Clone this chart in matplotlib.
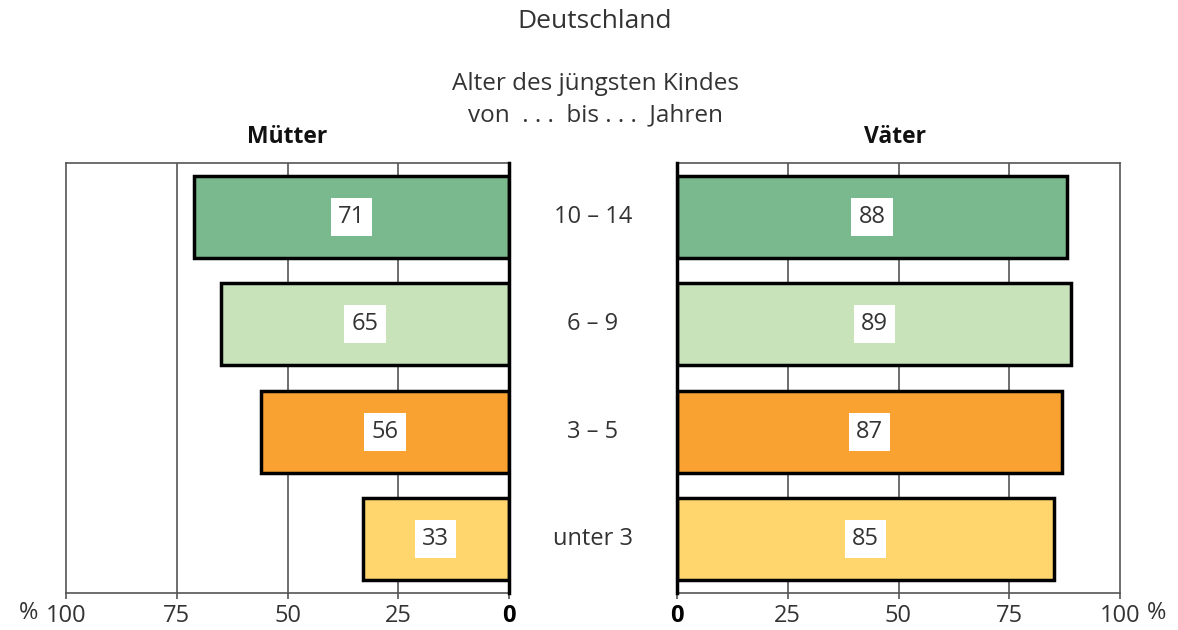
import matplotlib.pyplot as plt
import numpy as np

plt.rcParams['font.family'] = ['Open Sans', 'DejaVu Sans']

# data, top to bottom
age_groups = ['10 – 14', '6 – 9', '3 – 5', 'unter 3']
muetter = [71, 65, 56, 33]
vaeter = [88, 89, 87, 85]
bar_colors = ['#7ab98e', '#c8e3ba', '#f9a131', '#ffd66e']
ticks = [0, 25, 50, 75, 100]

txt = '#333333'
grid_c = '#555555'
fs = 17

fig = plt.figure(figsize=(11.78, 6.3), dpi=100)
W, H = 1178, 630
y_bot, y_top = 1 - 593 / H, 1 - 163 / H
ax_l = fig.add_axes([66 / W, y_bot, 443 / W, y_top - y_bot])
ax_r = fig.add_axes([677 / W, y_bot, 443 / W, y_top - y_bot])

ypos = np.arange(len(age_groups))[::-1]

def setup(ax, vals, left):
    ax.set_ylim(-0.5, 3.5)
    if left:
        ax.set_xlim(100, 0)
    else:
        ax.set_xlim(0, 100)
    for t in [25, 50, 75]:
        ax.axvline(t, color=grid_c, lw=1.2, zorder=1)
    ax.barh(ypos, vals, height=0.76, color=bar_colors, edgecolor='black',
            linewidth=2.5, zorder=3)
    for y, v in zip(ypos, vals):
        ax.text(v / 2, y, str(v), ha='center', va='center', fontsize=fs,
                color=txt, zorder=4,
                bbox=dict(boxstyle='square,pad=0.3', fc='white', ec='none'))
    ax.set_yticks([])
    ax.set_xticks(ticks)
    ax.tick_params(axis='x', direction='out', length=4, width=1.2,
                   color=grid_c, labelsize=fs, labelcolor=txt, pad=4)
    for s in ['top', 'bottom', 'left', 'right']:
        ax.spines[s].set_color(grid_c)
        ax.spines[s].set_linewidth(1.2)
    zero = 'right' if left else 'left'
    ax.spines[zero].set_color('black')
    ax.spines[zero].set_linewidth(2.5)
    ax.spines[zero].set_zorder(5)
    ax.set_xticklabels([str(t) for t in ticks])
    ax.get_xticklabels()[0].set_fontweight('bold')
    ax.get_xticklabels()[0].set_color('black')

setup(ax_l, muetter, True)
setup(ax_r, vaeter, False)

fig.text(38 / W, 1 - 613 / H, '%', ha='right', va='center', fontsize=fs, color=txt)
fig.text(1147 / W, 1 - 613 / H, '%', ha='left', va='center', fontsize=fs, color=txt)

# category labels in the gap between the panels
for y, lab in zip(ypos, age_groups):
    ax_l.annotate(lab, xy=(1, y), xycoords=('axes fraction', 'data'),
                  xytext=(84 * 72 / 100, 0), textcoords='offset points',
                  ha='center', va='center', fontsize=fs, color=txt)

fig.text(595 / W, 1 - 21 / H, 'Deutschland', ha='center', va='center',
         fontsize=19, color=txt)
fig.text(595 / W, 1 - 84 / H, 'Alter des jüngsten Kindes', ha='center',
         va='center', fontsize=17.5, color=txt)
fig.text(595 / W, 1 - 115 / H, 'von  . . .  bis . . .  Jahren', ha='center',
         va='center', fontsize=17.5, color=txt)
fig.text(287 / W, 1 - 137 / H, 'Mütter', ha='center', va='center',
         fontsize=16.5, fontweight='bold', color='#111111')
fig.text(895 / W, 1 - 137 / H, 'Väter', ha='center', va='center',
         fontsize=16.5, fontweight='bold', color='#111111')

fig.savefig('out.png', dpi=100)
